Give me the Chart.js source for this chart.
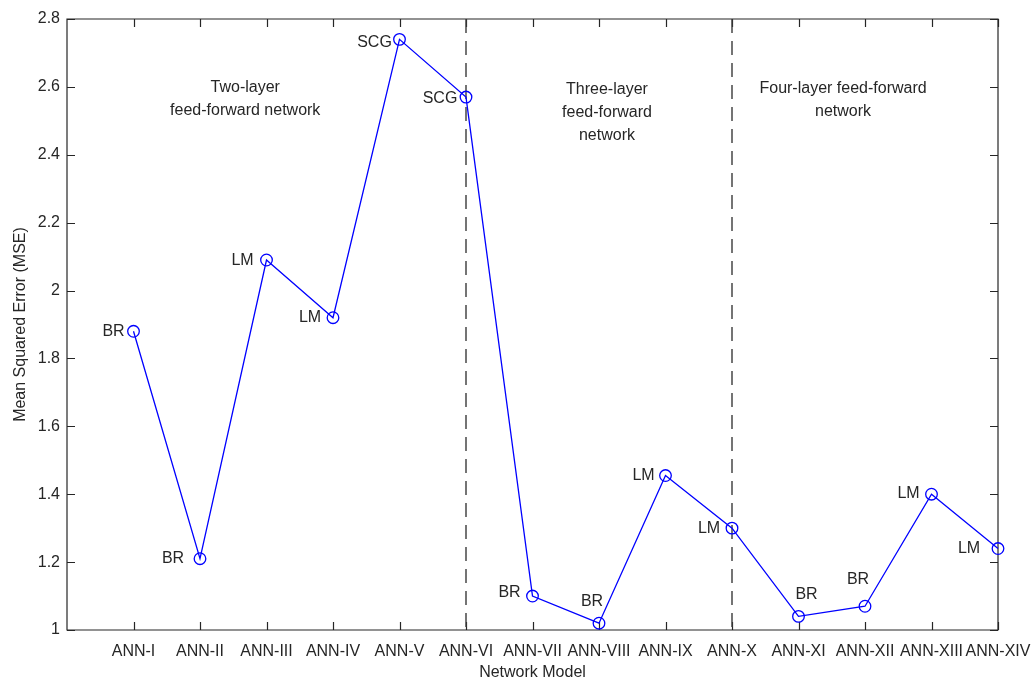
<!DOCTYPE html>
<html>
<head>
<meta charset="utf-8">
<script src="https://cdn.jsdelivr.net/npm/chart.js@4/dist/chart.umd.min.js"></script>
<style>
  html, body { margin: 0; padding: 0; background: #ffffff; }
  #wrap { width: 1035px; height: 686px; }
</style>
</head>
<body>
<div id="wrap"><canvas id="mse" width="1035" height="686"></canvas></div>
<script>
// Network models on the x axis
const models = ['ANN-I', 'ANN-II', 'ANN-III', 'ANN-IV', 'ANN-V', 'ANN-VI', 'ANN-VII',
                'ANN-VIII', 'ANN-IX', 'ANN-X', 'ANN-XI', 'ANN-XII', 'ANN-XIII', 'ANN-XIV'];

// Mean squared error of each model
const mse = [1.88, 1.21, 2.09, 1.92, 2.74, 2.57, 1.10, 1.02, 1.455, 1.30, 1.04, 1.07, 1.40, 1.24];

// Training algorithm used for each model
const algorithms = ['BR', 'BR', 'LM', 'LM', 'SCG', 'SCG', 'BR', 'BR', 'LM', 'LM', 'BR', 'BR', 'LM', 'LM'];

// Y axis ticks
const yTicks = [1, 1.2, 1.4, 1.6, 1.8, 2, 2.2, 2.4, 2.6, 2.8];

// Architecture groups separated by dashed lines (model index of each boundary)
const boundaries = [5, 9];

// Group captions
const groupCaptions = [
  ['Two-layer', 'feed-forward network'],
  ['Three-layer', 'feed-forward', 'network'],
  ['Four-layer feed-forward', 'network']
];

// Caption anchors (x in model-index units, y in MSE units for the first line)
const captionAnchors = [[1.68, 2.598], [7.12, 2.592], [10.67, 2.594]];

// Pixel offsets of the algorithm labels from their markers (label centre)
const labelOffsets = [[-20, 0], [-27, 0], [-24, 1], [-23, 0], [-25, 3], [-26, 2], [-23, -3],
                      [-7, -22], [-22, 0], [-23, 0], [8, -22], [-7, -27], [-23, -1], [-29, 0]];

const FONT = '"Liberation Sans", Arial, Helvetica, sans-serif';
const TEXT = '#262626';
const AXIS = '#262626';

const points = models.map((m, i) => ({ x: i, y: mse[i] }));

// Box around the plot area with inward tick marks on all four sides, plus the group dividers
const frame = {
  id: 'frame',
  beforeDatasetsDraw(chart) {
    const { ctx, chartArea: a, scales: { x, y } } = chart;
    const tl = 8;
    ctx.save();
    ctx.strokeStyle = AXIS;
    ctx.lineWidth = 1.2;
    ctx.beginPath();
    ctx.rect(a.left, a.top, a.right - a.left, a.bottom - a.top);
    ctx.stroke();
    ctx.beginPath();
    models.forEach((m, i) => {
      const px = Math.round(x.getPixelForValue(i)) + 0.5;
      ctx.moveTo(px, a.bottom); ctx.lineTo(px, a.bottom - tl);
      ctx.moveTo(px, a.top); ctx.lineTo(px, a.top + tl);
    });
    yTicks.forEach(v => {
      const py = Math.round(y.getPixelForValue(v)) + 0.5;
      ctx.moveTo(a.left, py); ctx.lineTo(a.left + tl, py);
      ctx.moveTo(a.right, py); ctx.lineTo(a.right - tl, py);
    });
    ctx.stroke();

    ctx.strokeStyle = '#3a3a3a';
    ctx.lineWidth = 1.4;
    ctx.setLineDash([14, 8]);
    boundaries.forEach(b => {
      const px = x.getPixelForValue(b);
      ctx.beginPath();
      ctx.moveTo(px, a.top);
      ctx.lineTo(px, a.bottom);
      ctx.stroke();
    });
    ctx.restore();
  },
  afterDatasetsDraw(chart) {
    const { ctx, scales: { x, y } } = chart;
    ctx.save();
    ctx.fillStyle = TEXT;
    ctx.font = '16px ' + FONT;
    ctx.textAlign = 'center';
    ctx.textBaseline = 'middle';
    algorithms.forEach((t, i) => {
      const px = x.getPixelForValue(i) + labelOffsets[i][0];
      const py = y.getPixelForValue(mse[i]) + labelOffsets[i][1];
      ctx.fillText(t, px, py);
    });
    groupCaptions.forEach((lines, g) => {
      const cx = x.getPixelForValue(captionAnchors[g][0]);
      const cy = y.getPixelForValue(captionAnchors[g][1]);
      lines.forEach((line, k) => ctx.fillText(line, cx, cy + k * 23));
    });
    ctx.restore();
  }
};

new Chart(document.getElementById('mse'), {
  type: 'line',
  data: {
    datasets: [{
      data: points,
      borderColor: '#0000ff',
      borderWidth: 1.3,
      pointStyle: 'circle',
      pointRadius: 5.8,
      pointBorderWidth: 1.3,
      pointBackgroundColor: 'rgba(0,0,0,0)',
      pointBorderColor: '#0000ff',
      tension: 0,
      fill: false,
      clip: false
    }]
  },
  options: {
    responsive: false,
    devicePixelRatio: 1,
    animation: false,
    layout: { padding: { left: 0, right: 37, top: 19, bottom: 0 } },
    plugins: { legend: { display: false }, tooltip: { enabled: false } },
    scales: {
      x: {
        type: 'linear',
        min: -1,
        max: models.length - 1,
        grid: { display: false, drawTicks: false },
        border: { display: false },
        afterFit(s) { s.height = 56; s.paddingLeft = 0; s.paddingRight = 0; },
        ticks: {
          stepSize: 1,
          autoSkip: false,
          maxRotation: 0,
          padding: 12,
          color: TEXT,
          font: { family: FONT, size: 16 },
          callback: v => models[v] || ''
        },
        title: {
          display: true,
          text: 'Network Model',
          color: TEXT,
          font: { family: FONT, size: 16 },
          padding: { top: 0, bottom: 4 }
        }
      },
      y: {
        min: yTicks[0],
        max: yTicks[yTicks.length - 1],
        grid: { display: false, drawTicks: false },
        border: { display: false },
        afterFit(s) { s.width = 67; s.paddingTop = 0; s.paddingBottom = 0; },
        afterBuildTicks(s) { s.ticks = yTicks.map(v => ({ value: v })); },
        ticks: {
          padding: 7,
          color: TEXT,
          font: { family: FONT, size: 16 },
          callback: v => String(Number(v.toFixed(1)))
        },
        title: {
          display: true,
          text: 'Mean Squared Error (MSE)',
          color: TEXT,
          font: { family: FONT, size: 16 },
          padding: { top: 11, bottom: 0 }
        }
      }
    }
  },
  plugins: [frame]
});
</script>
</body>
</html>
